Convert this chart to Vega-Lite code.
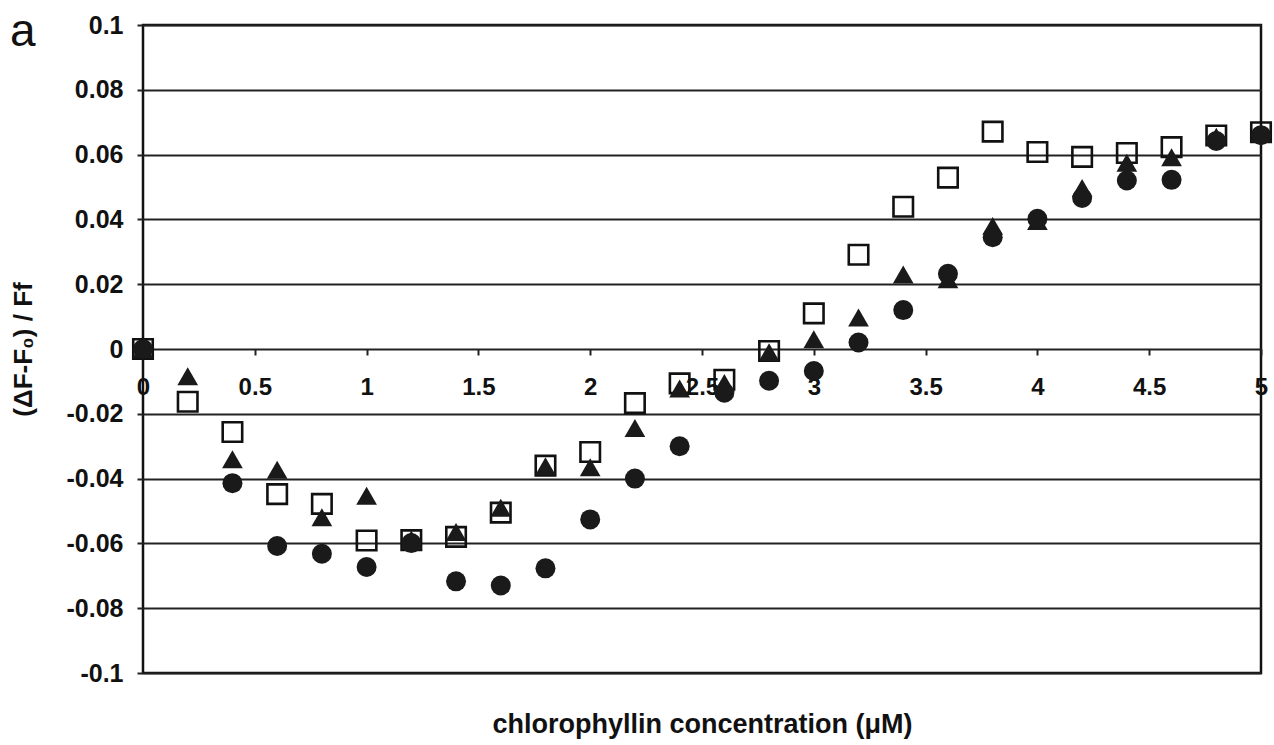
{
  "$schema": "https://vega.github.io/schema/vega-lite/v6.json",
  "width": 1118,
  "height": 648,
  "autosize": "none",
  "padding": {"left": 143, "top": 25, "right": 13, "bottom": 72},
  "background": "white",
  "title": {"text": "a", "anchor": "start", "frame": "group", "font": "Liberation Sans", "fontSize": 46, "fontWeight": "normal", "color": "#111", "dx": -133, "dy": 79, "offset": 0, "baseline": "alphabetic"},
  "config": {
    "view": {"stroke": "#111", "strokeWidth": 2.5},
    "font": "Liberation Sans"
  },
  "data": {
    "values": [
      {"series": "square", "x": 0, "y": 0},
      {"series": "square", "x": 0.2, "y": -0.0163},
      {"series": "square", "x": 0.4, "y": -0.0256},
      {"series": "square", "x": 0.6, "y": -0.0448},
      {"series": "square", "x": 0.8, "y": -0.0478},
      {"series": "square", "x": 1.0, "y": -0.0591},
      {"series": "square", "x": 1.2, "y": -0.059},
      {"series": "square", "x": 1.4, "y": -0.058},
      {"series": "square", "x": 1.6, "y": -0.0505},
      {"series": "square", "x": 1.8, "y": -0.036},
      {"series": "square", "x": 2.0, "y": -0.0318},
      {"series": "square", "x": 2.2, "y": -0.0167},
      {"series": "square", "x": 2.4, "y": -0.0106},
      {"series": "square", "x": 2.6, "y": -0.0095},
      {"series": "square", "x": 2.8, "y": -0.0006},
      {"series": "square", "x": 3.0, "y": 0.011},
      {"series": "square", "x": 3.2, "y": 0.0291},
      {"series": "square", "x": 3.4, "y": 0.0439},
      {"series": "square", "x": 3.6, "y": 0.0529},
      {"series": "square", "x": 3.8, "y": 0.0671},
      {"series": "square", "x": 4.0, "y": 0.0608},
      {"series": "square", "x": 4.2, "y": 0.0593},
      {"series": "square", "x": 4.4, "y": 0.0605},
      {"series": "square", "x": 4.6, "y": 0.0623},
      {"series": "square", "x": 4.8, "y": 0.0659},
      {"series": "square", "x": 5.0, "y": 0.0669},
      {"series": "triangle", "x": 0, "y": 0},
      {"series": "triangle", "x": 0.2, "y": -0.0084},
      {"series": "triangle", "x": 0.4, "y": -0.034},
      {"series": "triangle", "x": 0.6, "y": -0.0373},
      {"series": "triangle", "x": 0.8, "y": -0.0519},
      {"series": "triangle", "x": 1.0, "y": -0.0453},
      {"series": "triangle", "x": 1.2, "y": -0.0588},
      {"series": "triangle", "x": 1.4, "y": -0.0565},
      {"series": "triangle", "x": 1.6, "y": -0.049},
      {"series": "triangle", "x": 1.8, "y": -0.0362},
      {"series": "triangle", "x": 2.0, "y": -0.0365},
      {"series": "triangle", "x": 2.2, "y": -0.0244},
      {"series": "triangle", "x": 2.4, "y": -0.0122},
      {"series": "triangle", "x": 2.6, "y": -0.0105},
      {"series": "triangle", "x": 2.8, "y": -0.001},
      {"series": "triangle", "x": 3.0, "y": 0.003},
      {"series": "triangle", "x": 3.2, "y": 0.0097},
      {"series": "triangle", "x": 3.4, "y": 0.023},
      {"series": "triangle", "x": 3.6, "y": 0.0215},
      {"series": "triangle", "x": 3.8, "y": 0.038},
      {"series": "triangle", "x": 4.0, "y": 0.0395},
      {"series": "triangle", "x": 4.2, "y": 0.0497},
      {"series": "triangle", "x": 4.4, "y": 0.0575},
      {"series": "triangle", "x": 4.6, "y": 0.0592},
      {"series": "triangle", "x": 4.8, "y": 0.0655},
      {"series": "triangle", "x": 5.0, "y": 0.0665},
      {"series": "circle", "x": 0, "y": 0},
      {"series": "circle", "x": 0.4, "y": -0.0414},
      {"series": "circle", "x": 0.6, "y": -0.0608},
      {"series": "circle", "x": 0.8, "y": -0.0632},
      {"series": "circle", "x": 1.0, "y": -0.0673},
      {"series": "circle", "x": 1.2, "y": -0.0599},
      {"series": "circle", "x": 1.4, "y": -0.0717},
      {"series": "circle", "x": 1.6, "y": -0.073},
      {"series": "circle", "x": 1.8, "y": -0.0677},
      {"series": "circle", "x": 2.0, "y": -0.0526},
      {"series": "circle", "x": 2.2, "y": -0.040},
      {"series": "circle", "x": 2.4, "y": -0.030},
      {"series": "circle", "x": 2.6, "y": -0.0135},
      {"series": "circle", "x": 2.8, "y": -0.0098},
      {"series": "circle", "x": 3.0, "y": -0.0068},
      {"series": "circle", "x": 3.2, "y": 0.002},
      {"series": "circle", "x": 3.4, "y": 0.012},
      {"series": "circle", "x": 3.6, "y": 0.0232},
      {"series": "circle", "x": 3.8, "y": 0.0345},
      {"series": "circle", "x": 4.0, "y": 0.0402},
      {"series": "circle", "x": 4.2, "y": 0.0466},
      {"series": "circle", "x": 4.4, "y": 0.052},
      {"series": "circle", "x": 4.6, "y": 0.0522},
      {"series": "circle", "x": 4.8, "y": 0.0642},
      {"series": "circle", "x": 5.0, "y": 0.066}
    ]
  },
  "encoding": {
    "x": {
      "field": "x", "type": "quantitative",
      "scale": {"domain": [0, 5], "nice": false, "zero": false},
      "axis": {
        "orient": "bottom", "offset": -324,
        "values": [0, 0.5, 1, 1.5, 2, 2.5, 3, 3.5, 4, 4.5, 5],
        "labelExpr": "toString(datum.value)",
        "grid": false, "domain": false,
        "ticks": true, "tickSize": 6, "tickColor": "#222", "tickWidth": 2,
        "labelFont": "Liberation Sans", "labelFontWeight": "bold", "labelFontSize": 24, "labelColor": "#111",
        "labelPadding": 20, "labelFlush": false, "labelOverlap": false, "labelBaseline": "top",
        "title": "chlorophyllin concentration (μM)",
        "titleFont": "Liberation Sans", "titleFontWeight": "bold", "titleFontSize": 27, "titleColor": "#111",
        "titleY": 383, "titleBaseline": "alphabetic"
      }
    },
    "y": {
      "field": "y", "type": "quantitative",
      "scale": {"domain": [-0.1, 0.1], "nice": false, "zero": false},
      "axis": {
        "values": [-0.1, -0.08, -0.06, -0.04, -0.02, 0, 0.02, 0.04, 0.06, 0.08, 0.1],
        "labelExpr": "datum.value == 0 ? '0' : toString(round(datum.value * 100) / 100)",
        "grid": true, "gridColor": "#222", "gridWidth": 2,
        "domain": false,
        "ticks": true, "tickSize": 6, "tickColor": "#222", "tickWidth": 2,
        "labelFont": "Liberation Sans", "labelFontWeight": "bold", "labelFontSize": 25, "labelColor": "#111",
        "labelPadding": 14, "labelOverlap": false,
        "title": "(ΔF-F₀) / Ff",
        "titleFont": "Liberation Sans", "titleFontWeight": "bold", "titleFontSize": 26, "titleColor": "#111",
        "titleX": -120, "titleY": 324, "titleBaseline": "middle", "titleAngle": -90
      }
    }
  },
  "layer": [
    {
      "transform": [{"filter": "datum.series === 'square'"}],
      "mark": {"type": "point", "shape": "square", "filled": false, "stroke": "#111", "strokeWidth": 2.6, "size": 380, "opacity": 1}
    },
    {
      "transform": [{"filter": "datum.series === 'triangle'"}],
      "mark": {"type": "point", "shape": "triangle-up", "filled": true, "fill": "#1a1a1a", "size": 430, "opacity": 1}
    },
    {
      "transform": [{"filter": "datum.series === 'circle'"}],
      "mark": {"type": "point", "shape": "circle", "filled": true, "fill": "#1a1a1a", "size": 400, "opacity": 1}
    }
  ]
}
